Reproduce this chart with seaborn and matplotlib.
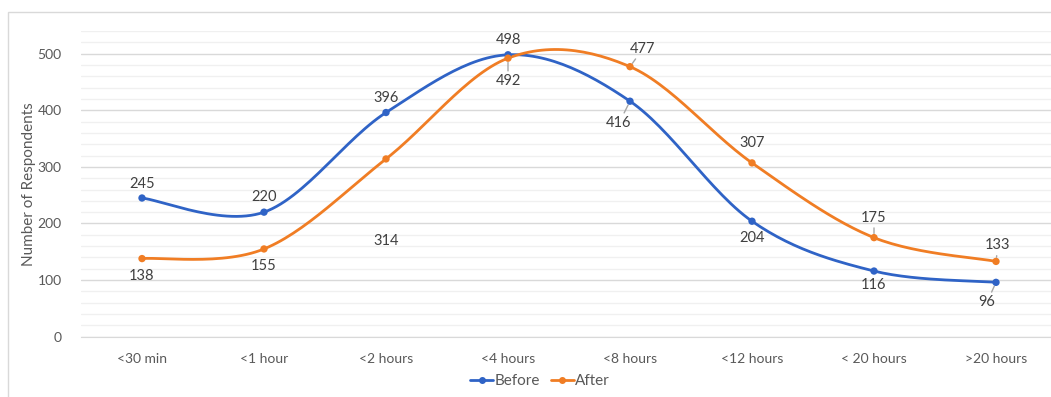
import matplotlib
matplotlib.use("Agg")
import matplotlib.pyplot as plt
import numpy as np
import pandas as pd
import seaborn as sns
from matplotlib.lines import Line2D
from matplotlib.patches import Rectangle

CATEGORIES = ["<30 min", "<1 hour", "<2 hours", "<4 hours", "<8 hours",
              "<12 hours", "< 20 hours", ">20 hours"]
BEFORE = [245, 220, 396, 498, 416, 204, 116, 96]
AFTER = [138, 155, 314, 492, 477, 307, 175, 133]

BLUE = "#2F63C6"
ORANGE = "#F07D24"
TEXT = "#595959"

# label offsets in pixels (dx, dy) and whether a leader line is drawn
BEFORE_OFFSETS = [(0, 14), (0, 15), (0, 15), (0, 15), (-11, -22), (0, -17), (0, -14), (-9, -20)]
BEFORE_LEADER = [False, False, False, False, True, False, False, True]
AFTER_OFFSETS = [(0, -17), (0, -17), (0, -82), (0, -23), (13, 18), (0, 20), (0, 20), (2, 16)]
AFTER_LEADER = [False, False, False, True, True, False, True, True]


def smooth(y, steps=30):
    """Excel style smoothed line (Catmull-Rom bezier) through the points."""
    x = np.arange(len(y), dtype=float)
    pts = np.column_stack([x, np.asarray(y, dtype=float)])
    padded = np.vstack([pts[0], pts, pts[-1]])
    out = []
    t = np.linspace(0, 1, steps)[:, None]
    for i in range(len(pts) - 1):
        p0, p3 = padded[i + 1], padded[i + 2]
        c1 = p0 + (padded[i + 2] - padded[i]) / 6
        c2 = p3 - (padded[i + 3] - padded[i + 1]) / 6
        seg = ((1 - t) ** 3) * p0 + 3 * ((1 - t) ** 2) * t * c1 + 3 * (1 - t) * t ** 2 * c2 + t ** 3 * p3
        out.append(seg if i == 0 else seg[1:])
    return np.vstack(out)


sns.set_style("white")
plt.rcParams["font.family"] = ["Lato", "DejaVu Sans"]

fig = plt.figure(figsize=(10.51, 3.97), dpi=100)
fig.patches.append(Rectangle((8 / 1051, -0.1), 1.2, (397 - 12) / 397 + 0.1,
                             transform=fig.transFigure, fill=False,
                             edgecolor="#d9d9d9", linewidth=1))
ax = fig.add_axes([81 / 1051, (397 - 336.7) / 397, (1051 - 81) / 1051, (336.7 - 31) / 397])

curves = []
for name, vals in [("Before", BEFORE), ("After", AFTER)]:
    c = smooth(vals)
    curves.append(pd.DataFrame({"x": c[:, 0], "y": c[:, 1], "series": name}))
curve_df = pd.concat(curves, ignore_index=True)
point_df = pd.DataFrame({
    "x": list(range(len(CATEGORIES))) * 2,
    "y": BEFORE + AFTER,
    "series": ["Before"] * len(BEFORE) + ["After"] * len(AFTER),
})
palette = {"Before": BLUE, "After": ORANGE}

sns.lineplot(data=curve_df, x="x", y="y", hue="series", palette=palette,
             sort=False, estimator=None, linewidth=2, ax=ax, legend=False)
sns.scatterplot(data=point_df, x="x", y="y", hue="series", palette=palette,
                s=28, edgecolor="none", ax=ax, legend=False, zorder=5)

for vals, offs, leads in [(BEFORE, BEFORE_OFFSETS, BEFORE_LEADER),
                          (AFTER, AFTER_OFFSETS, AFTER_LEADER)]:
    for i, v in enumerate(vals):
        dx, dy = offs[i]
        ax.annotate(str(v), (i, v), xytext=(dx, dy), textcoords="offset pixels",
                    ha="center", va="center", fontsize=10.5, color="#404040",
                    arrowprops=dict(arrowstyle="-", color="#a6a6a6", lw=1,
                                    shrinkA=0, shrinkB=3) if leads[i] else None)

ax.set_xlim(-0.5, (1051 - 142) / 122)
ax.set_ylim(0, 540)
ax.set_yticks(range(0, 501, 100))
ax.set_yticks(range(0, 541, 20), minor=True)
ax.set_xticks(range(len(CATEGORIES)))
ax.set_xticklabels(CATEGORIES)
ax.grid(axis="y", which="major", color="#d9d9d9", linewidth=1)
ax.grid(axis="y", which="minor", color="#f0f0f0", linewidth=1)
ax.set_axisbelow(True)
for s in ["top", "right", "left"]:
    ax.spines[s].set_visible(False)
ax.spines["bottom"].set_color("#d9d9d9")
ax.tick_params(axis="both", which="both", length=0, colors=TEXT, labelsize=10)
ax.tick_params(axis="x", pad=12)
ax.tick_params(axis="y", pad=14)
ax.set_xlabel("")
ax.set_ylabel("Number of Respondents", fontsize=11, color=TEXT, labelpad=1)

handles = [Line2D([], [], color=BLUE, marker="o", markersize=4, lw=2),
           Line2D([], [], color=ORANGE, marker="o", markersize=4, lw=2)]
fig.legend(handles, ["Before", "After"], loc="center", bbox_to_anchor=(540 / 1051, 1 - 381 / 397),
           ncol=2, frameon=False, fontsize=11, labelcolor=TEXT, handlelength=1.5,
           handletextpad=0.1, columnspacing=0.7)

fig.savefig("out.png", dpi=100)
